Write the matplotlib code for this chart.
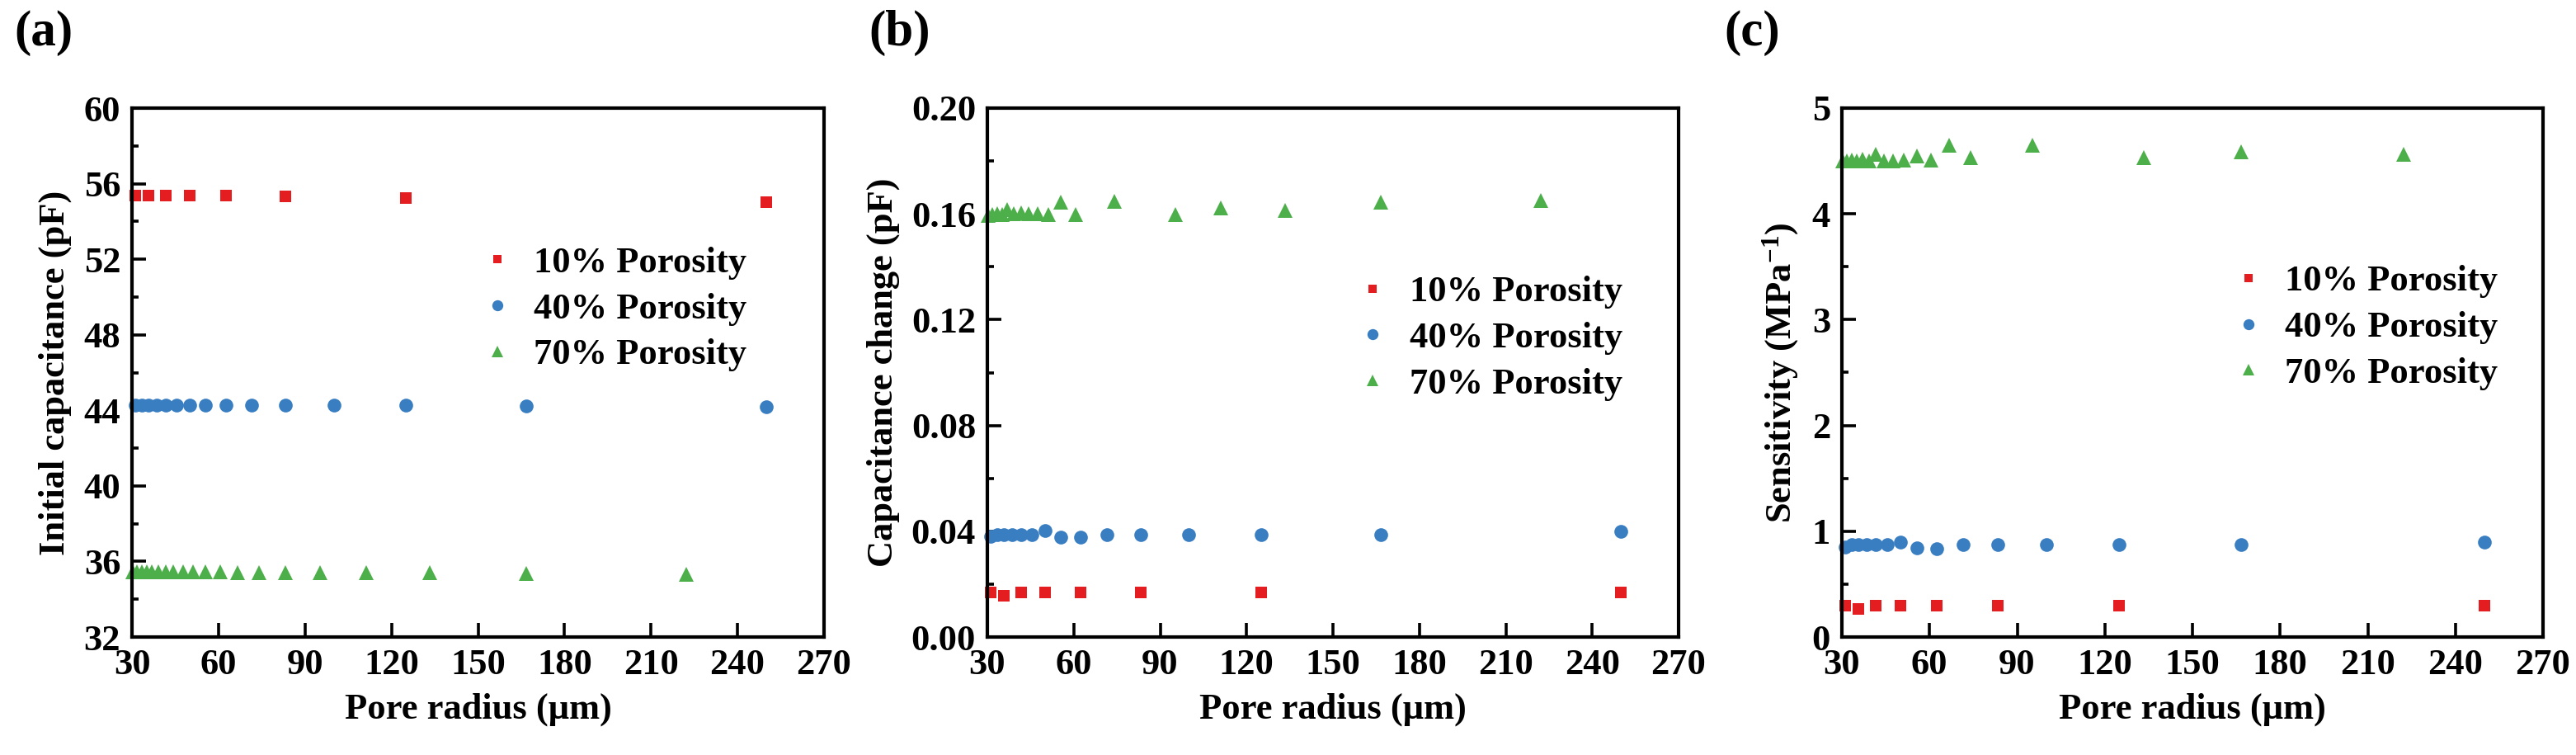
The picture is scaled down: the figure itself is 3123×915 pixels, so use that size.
import numpy as np
import matplotlib
matplotlib.use('Agg')
import matplotlib.pyplot as plt
from matplotlib.ticker import MultipleLocator, AutoMinorLocator

plt.rcParams['font.family'] = ['Liberation Serif', 'DejaVu Serif']
plt.rcParams['font.weight'] = 'bold'
plt.rcParams['mathtext.fontset'] = 'custom'
plt.rcParams['mathtext.rm'] = 'Liberation Serif:bold'
plt.rcParams['mathtext.bf'] = 'Liberation Serif:bold'
plt.rcParams['mathtext.it'] = 'Liberation Serif:bold:italic'

# pore radius (um) for each porosity series
r_10 = [31.25, 35.7, 41.7, 50.0, 62.5, 83.3, 125.0, 250.0]
r_40 = [31.25, 33.3, 35.7, 38.5, 41.7, 45.5, 50.0, 55.6, 62.5, 71.4, 83.3, 100.0, 125.0, 166.7, 250.0]
r_70a = [30.3, 31.7, 33.3, 35.1, 37.0, 39.2, 41.7, 44.4, 47.6, 51.3, 55.6, 60.6, 66.7, 74.1,
         83.3, 95.2, 111.1, 133.3, 166.7, 222.2]
r_70b = [30.3, 31.7, 33.3, 35.1, 37.0, 39.2, 41.7, 44.4, 47.6, 51.3, 55.6, 60.6, 74.1,
         95.2, 111.1, 133.3, 166.7, 222.2]
r_70c = [30.3, 31.7, 33.3, 35.1, 37.0, 39.2, 41.7, 44.4, 47.6, 51.3, 55.6, 60.6, 66.7, 74.1,
         95.2, 133.3, 166.7, 222.2]

# (a) initial capacitance (pF)
cap_10 = [55.37, 55.37, 55.37, 55.36, 55.36, 55.33, 55.25, 55.0]
cap_40 = [44.28, 44.28, 44.28, 44.28, 44.28, 44.28, 44.28, 44.28, 44.28, 44.28, 44.28,
          44.27, 44.26, 44.22, 44.17]
cap_70 = [35.43, 35.43, 35.43, 35.43, 35.43, 35.43, 35.43, 35.43, 35.43, 35.43, 35.43,
          35.43, 35.42, 35.42, 35.42, 35.41, 35.40, 35.39, 35.35, 35.33]

# (b) capacitance change (pF)
dc_10 = [0.0168, 0.0157, 0.0168, 0.0168, 0.0168, 0.0168, 0.0168, 0.0168]
dc_40 = [0.0380, 0.0386, 0.0387, 0.0387, 0.0387, 0.0387, 0.0402, 0.0376, 0.0377, 0.0387,
         0.0387, 0.0387, 0.0387, 0.0387, 0.0400]
dc_70 = [0.1595, 0.1597, 0.1600, 0.1598, 0.1615, 0.1600, 0.1605, 0.1600, 0.1602, 0.1597,
         0.1644, 0.1599, 0.1646, 0.1599, 0.1621, 0.1612, 0.1645, 0.1652]

# (c) sensitivity (MPa^-1)
s_10 = [0.293, 0.267, 0.293, 0.293, 0.293, 0.293, 0.293, 0.293]
s_40 = [0.85, 0.875, 0.877, 0.877, 0.877, 0.877, 0.897, 0.84, 0.832, 0.877, 0.877,
        0.877, 0.877, 0.877, 0.897]
s_70 = [4.50, 4.50, 4.51, 4.50, 4.52, 4.50, 4.56, 4.50, 4.50, 4.51, 4.55, 4.51, 4.647,
        4.53, 4.647, 4.53, 4.59, 4.56]

labels = ['10% Porosity', '40% Porosity', '70% Porosity']
red = '#E41E20'
blue = '#3A7EC2'
green = '#4DAF4A'

W, H = 3123, 915
fig = plt.figure(figsize=(W / 100, H / 100), dpi=100)

def make_ax(left, right):
    ax = fig.add_axes([left / W, (H - 772) / H, (right - left) / W, 641 / H])
    for sp in ax.spines.values():
        sp.set_linewidth(3.0)
    ax.tick_params(which='both', direction='in', top=False, right=False,
                   labelsize=32, width=2.6)
    ax.tick_params(which='major', length=12, pad=10)
    ax.tick_params(which='minor', length=6)
    ax.set_xlim(30, 270)
    ax.xaxis.set_major_locator(MultipleLocator(30))
    ax.yaxis.set_minor_locator(AutoMinorLocator(2))
    ax.set_xlabel('Pore radius (μm)', fontsize=32, fontweight='bold', labelpad=10)
    return ax

def draw(ax, xs, ys, leg_center):
    ax.plot(xs[0], ys[0], 's', color=red, ms=9.5, mew=0, label=labels[0], clip_on=False)
    ax.plot(xs[1], ys[1], 'o', color=blue, ms=12, mew=0, label=labels[1], clip_on=False)
    ax.plot(xs[2], ys[2], '^', color=green, ms=13, mew=0, label=labels[2], clip_on=False)
    ax.legend(loc='center', bbox_to_anchor=leg_center, frameon=False,
              prop={'size': 32, 'weight': 'bold'}, markerscale=0.8,
              handlelength=0.6, handletextpad=0.7, labelspacing=0.35)

ax1 = make_ax(160, 999)
draw(ax1, [r_10, r_40, r_70a], [cap_10, cap_40, cap_70], (0.70, 0.62))
ax1.set_ylim(32, 60)
ax1.yaxis.set_major_locator(MultipleLocator(4))
ax1.set_ylabel('Initial capacitance (pF)', fontsize=32, fontweight='bold', labelpad=10)

ax2 = make_ax(1197, 2035)
draw(ax2, [r_10, r_40, r_70b], [dc_10, dc_40, dc_70], (0.73, 0.565))
ax2.set_ylim(0, 0.2)
ax2.yaxis.set_major_locator(MultipleLocator(0.04))
ax2.yaxis.set_major_formatter(plt.FormatStrFormatter('%.2f'))
ax2.set_ylabel('Capacitance change (pF)', fontsize=32, fontweight='bold', labelpad=10)

ax3 = make_ax(2233, 3083)
draw(ax3, [r_10, r_40, r_70c], [s_10, s_40, s_70], (0.75, 0.585))
ax3.set_ylim(0, 5)
ax3.yaxis.set_major_locator(MultipleLocator(1))
ax3.set_ylabel(r'Sensitivity (MPa$^{-1}$)', fontsize=32, fontweight='bold', labelpad=10)

for x, t in [(17, '(a)'), (1053, '(b)'), (2090, '(c)')]:
    fig.text(x / W, 1 - 12 / H, t, fontsize=44, fontweight='bold', ha='left', va='top')

fig.savefig('out.png', dpi=100)
